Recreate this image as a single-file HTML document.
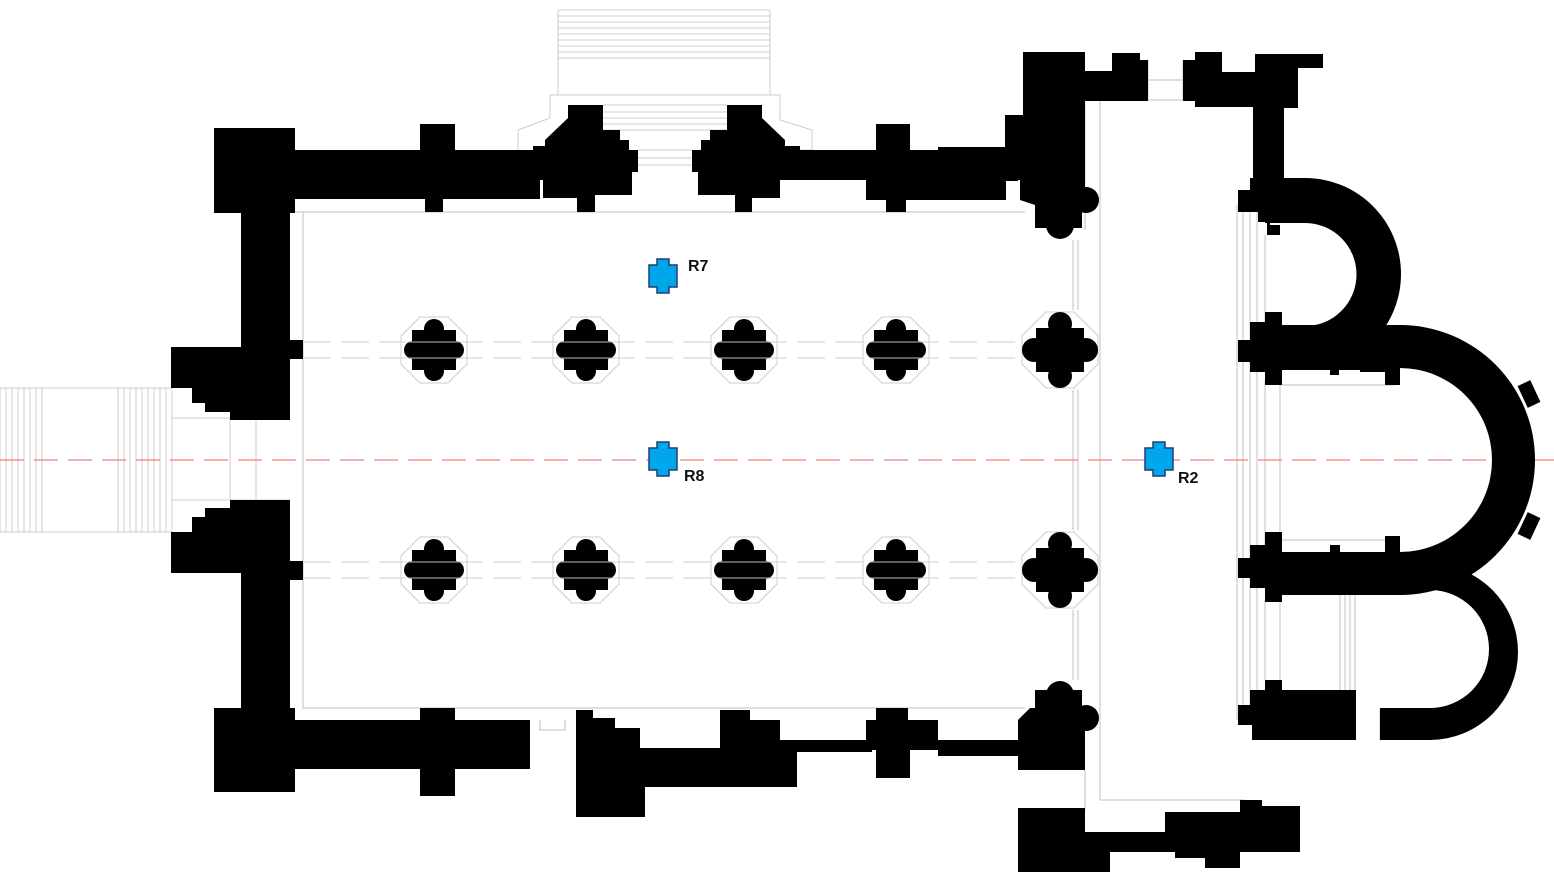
<!DOCTYPE html>
<html><head><meta charset="utf-8"><style>
html,body{margin:0;padding:0;background:#fff;width:1554px;height:891px;overflow:hidden}
svg{display:block}
text{font-family:"Liberation Sans",sans-serif;font-weight:bold;font-size:16px;fill:#111}
</style></head><body>
<svg width="1554" height="891" viewBox="0 0 1554 891" xmlns="http://www.w3.org/2000/svg">
<defs>
<g id="pier">
<polygon points="-14,-33 14,-33 33,-14 33,14 14,33 -14,33 -33,14 -33,-14" fill="none" stroke="#ccc" stroke-width="1"/>
<rect x="-22" y="-20" width="44" height="40" fill="#000"/>
<rect x="-30" y="-9" width="60" height="18" rx="9" fill="#000"/>
<circle cx="0" cy="-21" r="10" fill="#000"/><circle cx="0" cy="21" r="10" fill="#000"/>
<line x1="-26" y1="-8" x2="26" y2="-8" stroke="#bbb" stroke-width="1"/>
<line x1="-26" y1="8" x2="26" y2="8" stroke="#bbb" stroke-width="1"/>
</g>
<g id="pier2">
<polygon points="-14,-38 14,-38 38,-14 38,14 14,38 -14,38 -38,14 -38,-14" fill="none" stroke="#ccc" stroke-width="1"/>
<rect x="-24" y="-22" width="48" height="44" fill="#000"/>
<circle cx="-26" cy="0" r="12" fill="#000"/><circle cx="26" cy="0" r="12" fill="#000"/>
<circle cx="0" cy="-26" r="12" fill="#000"/><circle cx="0" cy="26" r="12" fill="#000"/>
</g>
<path id="cross" d="M-6,-17 H6 V-11 H14 V11 H6 V17 H-6 V11 H-14 V-11 H-6 Z" fill="#00a6ea" stroke="#1a3f7a" stroke-width="1.5"/>
</defs>

<g stroke="#ccc" stroke-width="1">
<rect x="0" y="388" width="172" height="144" fill="none"/>
<path d="M6,388V532M12,388V532M18,388V532M24,388V532M30,388V532M36,388V532M42,388V532M118,388V532M124,388V532M130,388V532M136,388V532M142,388V532M148,388V532M154,388V532M160,388V532M166,388V532"/>
<path d="M230,418V500M256,418V500M172,418H290M172,500H290"/>
</g>
<g stroke="#ccc" stroke-width="1" fill="none">
<rect x="558" y="10" width="212" height="85"/>
<path d="M558,16H770M558,22H770M558,28H770M558,34H770M558,40H770M558,46H770M558,52H770M558,58H770"/>
<path d="M550,95H780V120L812,130V150H795M518,150V130L550,118V95"/>
<path d="M603,105H727M603,112H727M603,118H727M603,124H727M603,130H727M638,150H693M638,158H693M638,165H693"/>
</g>
<g stroke="#ccc" stroke-width="1.2" fill="none">
<path d="M303,212H1025M303,212V708H1025M289,212H303"/>
<path d="M1073,240V310M1078,240V310M1073,390V530M1078,390V530M1073,610V680M1078,610V680"/>
<path d="M1085,100V230M1100,100V800H1245M1085,770V810M1085,100H1195"/>
<path d="M1237,205V720M1243,205V720M1250,205V720M1257,205V720M1265,235V330M1265,380V545M1280,380V545M1265,600V680M1280,600V680"/>
<path d="M1280,385H1395M1280,540H1395M1340,590V690M1345,590V690M1350,590V690M1355,590V740M1380,710V740"/>
<path d="M1148,60V100M1183,60V100M1148,80H1183"/>
<path d="M540,720V730H565V720"/>
</g>
<g stroke="#ddd" stroke-width="1.5" stroke-dasharray="28,10" fill="none">
<path d="M303,342H1025M303,358H1025M303,562H1025M303,578H1025"/>
</g>
<line x1="0" y1="460" x2="1554" y2="460" stroke="#f08080" stroke-width="1.3" stroke-dasharray="24,10"/>

<g fill="#000">
<rect x="214" y="128" width="81" height="85"/>
<rect x="241" y="128" width="49" height="292"/>
<path d="M171,347H290V418H250V420H230V412H205V403H192V388H171Z"/>
<rect x="289" y="340" width="14" height="19"/>
<rect x="214" y="708" width="81" height="84"/>
<rect x="241" y="500" width="49" height="292"/>
<path d="M171,573H290V502H250V500H230V508H205V517H192V532H171Z"/>
<rect x="289" y="561" width="14" height="19"/>
<rect x="290" y="150" width="250" height="49"/>
<rect x="420" y="124" width="35" height="30"/>
<rect x="425" y="195" width="18" height="17"/>
<rect x="455" y="150" width="90" height="30"/>
<path d="M533,146H545V140L568,118V105H603V130H620V140H629V150H638V172H632V195H595V212H577V198H543V180H533Z"/>
<path d="M800,146H785V140L762,118V105H727V130H710V140H701V150H692V172H698V195H735V212H752V198H780V180H800Z"/>
<rect x="790" y="150" width="90" height="30"/>
<rect x="866" y="150" width="140" height="50"/>
<rect x="876" y="124" width="34" height="30"/>
<rect x="886" y="195" width="20" height="17"/>
<rect x="938" y="147" width="80" height="34"/>
<path d="M1023,52H1085V71H1112V53H1140V60H1148V101H1085V190L1082,205H1035L1020,200V180H1005V115H1023Z"/>
<circle cx="1086" cy="200" r="13"/><circle cx="1060" cy="225" r="14"/>
<path d="M1035,200H1082V228H1035Z"/>
<path d="M1183,60V101H1195V107H1253V180H1284V108H1298V68H1323V54H1255V72H1222V52H1195V60Z"/>
<rect x="290" y="720" width="240" height="49"/>
<rect x="420" y="708" width="35" height="88"/>
<path d="M455,720H528V760H490V768H455Z"/>
<path d="M576,710H593V718H615V728H640V748H720V710H750V720H780V740H797V787H645V817H576Z"/>
<rect x="797" y="740" width="75" height="12"/>
<path d="M866,720H876V708H908V720H938V740H1018V720L1030,708H1085V770H1018V756H938V750H910V778H876V750H866Z"/>
<circle cx="1060" cy="695" r="14"/><circle cx="1086" cy="718" r="13"/>
<rect x="1035" y="690" width="47" height="30"/>
<path d="M1018,808H1085V832H1165V812H1240V800H1262V806H1300V852H1240V868H1205V858H1175V852H1110V872H1018Z"/>
<path d="M1238,190H1250V178H1258V172H1270V185H1279V205H1270V225H1280V235H1267V222H1258V212H1238Z"/>
</g>

<path d="M1265,178H1305A96,96 0 0 1 1305,370H1265V326H1305A51.5,51.5 0 0 0 1305,223H1265Z" fill="#000"/>
<path d="M1380,564H1430A88,88 0 0 1 1430,740H1380V708H1430A59,59 0 0 0 1430,590H1380Z" fill="#000"/>
<path d="M1275,325H1400A135,135 0 0 1 1400,595H1275V552H1400A92,92 0 0 0 1400,368H1275Z" fill="#000"/>
<rect x="1522" y="382" width="14" height="24" fill="#000" transform="rotate(-25 1529 394)"/>
<rect x="1522" y="514" width="14" height="24" fill="#000" transform="rotate(25 1529 526)"/>
<g fill="#000">
<path d="M1238,340H1250V322H1265V312H1282V330H1350V342H1378V360H1400V385H1385V372H1360V370H1339V375H1330V370H1282V385H1265V372H1250V362H1238Z"/>
<path d="M1238,558H1250V545H1265V532H1282V552H1330V545H1340V552H1385V536H1400V565H1390V585H1380V570H1355V590H1282V602H1265V588H1250V578H1238Z"/>
<path d="M1238,705H1250V690H1265V680H1282V690H1356V740H1252V725H1238Z"/>
</g>

<use href="#pier" x="434" y="350"/><use href="#pier" x="586" y="350"/><use href="#pier" x="744" y="350"/><use href="#pier" x="896" y="350"/>
<use href="#pier" x="434" y="570"/><use href="#pier" x="586" y="570"/><use href="#pier" x="744" y="570"/><use href="#pier" x="896" y="570"/>
<use href="#pier2" x="1060" y="350"/><use href="#pier2" x="1060" y="570"/>

<use href="#cross" x="663" y="276"/>
<use href="#cross" x="663" y="459"/>
<use href="#cross" x="1159" y="459"/>
<text x="688" y="271">R7</text>
<text x="684" y="481">R8</text>
<text x="1178" y="483">R2</text>
</svg>
</body></html>
